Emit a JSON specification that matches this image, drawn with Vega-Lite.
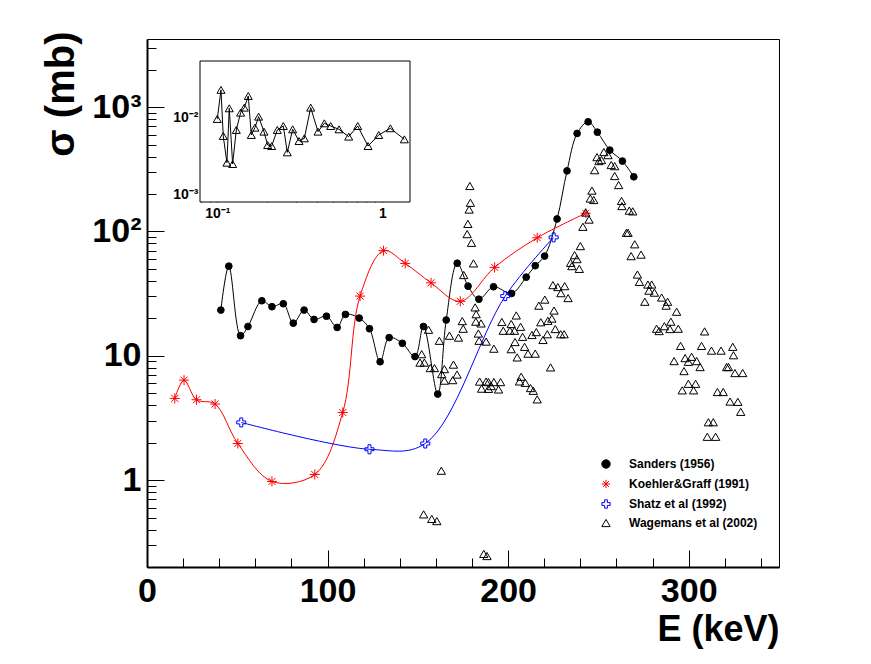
{
  "$schema": "https://vega.github.io/schema/vega-lite/v6.json",
  "width": 632,
  "height": 528,
  "autosize": {"type": "none"},
  "padding": {"left": 147, "top": 39, "right": 92, "bottom": 97},
  "background": "white",
  "config": {
    "font": "Liberation Sans",
    "view": {"stroke": "black", "strokeWidth": 1},
    "axis": {"grid": false, "labelFlush": false, "labelOverlap": false, "labelBound": false, "tickColor": "black", "tickWidth": 1, "labelColor": "black", "labelFont": "Liberation Sans", "labelFontWeight": "bold"},
    "legend": {
      "orient": "none", "legendX": 453, "legendY": 419, "padding": 0,
      "labelFont": "Liberation Sans", "labelFontSize": 12, "labelFontWeight": "bold", "labelColor": "black",
      "symbolSize": 70, "symbolStrokeWidth": 1, "symbolOpacity": 1, "rowPadding": 6, "labelOffset": 17
    }
  },
  "datasets": {
    "main": [
      {"s": "Sanders (1956)", "E": 40.9, "sigma": 23.3},
      {"s": "Sanders (1956)", "E": 45.3, "sigma": 52.6},
      {"s": "Sanders (1956)", "E": 51.8, "sigma": 14.5},
      {"s": "Sanders (1956)", "E": 55.9, "sigma": 17.2},
      {"s": "Sanders (1956)", "E": 63.6, "sigma": 27.7},
      {"s": "Sanders (1956)", "E": 69.2, "sigma": 24.8},
      {"s": "Sanders (1956)", "E": 75.5, "sigma": 26.2},
      {"s": "Sanders (1956)", "E": 81.0, "sigma": 18.3},
      {"s": "Sanders (1956)", "E": 87.0, "sigma": 23.3},
      {"s": "Sanders (1956)", "E": 92.5, "sigma": 19.6},
      {"s": "Sanders (1956)", "E": 99.4, "sigma": 20.8},
      {"s": "Sanders (1956)", "E": 105.3, "sigma": 16.9},
      {"s": "Sanders (1956)", "E": 109.9, "sigma": 21.5},
      {"s": "Sanders (1956)", "E": 117.5, "sigma": 20.1},
      {"s": "Sanders (1956)", "E": 123.2, "sigma": 16.5},
      {"s": "Sanders (1956)", "E": 129.1, "sigma": 8.95},
      {"s": "Sanders (1956)", "E": 134.1, "sigma": 14.0},
      {"s": "Sanders (1956)", "E": 141.4, "sigma": 12.6},
      {"s": "Sanders (1956)", "E": 148.4, "sigma": 9.85},
      {"s": "Sanders (1956)", "E": 153.1, "sigma": 17.2},
      {"s": "Sanders (1956)", "E": 161.0, "sigma": 4.92},
      {"s": "Sanders (1956)", "E": 165.7, "sigma": 19.4},
      {"s": "Sanders (1956)", "E": 171.8, "sigma": 55.5},
      {"s": "Sanders (1956)", "E": 177.8, "sigma": 36.3},
      {"s": "Sanders (1956)", "E": 183.8, "sigma": 28.5},
      {"s": "Sanders (1956)", "E": 191.9, "sigma": 35.9},
      {"s": "Sanders (1956)", "E": 201.9, "sigma": 31.7},
      {"s": "Sanders (1956)", "E": 210.0, "sigma": 42.9},
      {"s": "Sanders (1956)", "E": 215.0, "sigma": 53.0},
      {"s": "Sanders (1956)", "E": 220.2, "sigma": 63.4},
      {"s": "Sanders (1956)", "E": 227.1, "sigma": 126},
      {"s": "Sanders (1956)", "E": 232.6, "sigma": 307},
      {"s": "Sanders (1956)", "E": 238.2, "sigma": 614},
      {"s": "Sanders (1956)", "E": 244.3, "sigma": 762},
      {"s": "Sanders (1956)", "E": 249.4, "sigma": 629},
      {"s": "Sanders (1956)", "E": 256.3, "sigma": 451},
      {"s": "Sanders (1956)", "E": 263.3, "sigma": 368},
      {"s": "Sanders (1956)", "E": 269.6, "sigma": 275},
      {"s": "Koehler&Graff (1991)", "E": 15.4, "sigma": 4.54},
      {"s": "Koehler&Graff (1991)", "E": 20.5, "sigma": 6.37},
      {"s": "Koehler&Graff (1991)", "E": 27.4, "sigma": 4.43},
      {"s": "Koehler&Graff (1991)", "E": 37.7, "sigma": 4.09},
      {"s": "Koehler&Graff (1991)", "E": 50.3, "sigma": 1.97},
      {"s": "Koehler&Graff (1991)", "E": 69.2, "sigma": 0.975},
      {"s": "Koehler&Graff (1991)", "E": 92.9, "sigma": 1.11},
      {"s": "Koehler&Graff (1991)", "E": 108.4, "sigma": 3.5},
      {"s": "Koehler&Graff (1991)", "E": 118.0, "sigma": 30.2},
      {"s": "Koehler&Graff (1991)", "E": 131.0, "sigma": 70.0},
      {"s": "Koehler&Graff (1991)", "E": 143.0, "sigma": 55.3},
      {"s": "Koehler&Graff (1991)", "E": 157.3, "sigma": 38.6},
      {"s": "Koehler&Graff (1991)", "E": 173.5, "sigma": 27.4},
      {"s": "Koehler&Graff (1991)", "E": 192.5, "sigma": 51.4},
      {"s": "Koehler&Graff (1991)", "E": 216.1, "sigma": 88.9},
      {"s": "Koehler&Graff (1991)", "E": 243.0, "sigma": 140},
      {"s": "Shatz et al (1992)", "E": 52.2, "sigma": 2.91},
      {"s": "Shatz et al (1992)", "E": 123.2, "sigma": 1.77},
      {"s": "Shatz et al (1992)", "E": 154.1, "sigma": 1.97},
      {"s": "Shatz et al (1992)", "E": 198.4, "sigma": 30.2},
      {"s": "Shatz et al (1992)", "E": 225.2, "sigma": 89.6},
      {"s": "Wagemans et al (2002)", "E": 178.8, "sigma": 232},
      {"s": "Wagemans et al (2002)", "E": 179.1, "sigma": 170},
      {"s": "Wagemans et al (2002)", "E": 178.4, "sigma": 150},
      {"s": "Wagemans et al (2002)", "E": 177.7, "sigma": 115},
      {"s": "Wagemans et al (2002)", "E": 177.3, "sigma": 95.2},
      {"s": "Wagemans et al (2002)", "E": 179.7, "sigma": 81.0},
      {"s": "Wagemans et al (2002)", "E": 180.8, "sigma": 55.3},
      {"s": "Wagemans et al (2002)", "E": 175.4, "sigma": 44.6},
      {"s": "Wagemans et al (2002)", "E": 181.7, "sigma": 24.5},
      {"s": "Wagemans et al (2002)", "E": 182.3, "sigma": 21.6},
      {"s": "Wagemans et al (2002)", "E": 182.1, "sigma": 18.8},
      {"s": "Wagemans et al (2002)", "E": 185.0, "sigma": 18.2},
      {"s": "Wagemans et al (2002)", "E": 183.5, "sigma": 15.1},
      {"s": "Wagemans et al (2002)", "E": 183.9, "sigma": 13.2},
      {"s": "Wagemans et al (2002)", "E": 187.8, "sigma": 13.0},
      {"s": "Wagemans et al (2002)", "E": 192.1, "sigma": 11.4},
      {"s": "Wagemans et al (2002)", "E": 174.6, "sigma": 19.0},
      {"s": "Wagemans et al (2002)", "E": 175.1, "sigma": 16.5},
      {"s": "Wagemans et al (2002)", "E": 172.5, "sigma": 14.0},
      {"s": "Wagemans et al (2002)", "E": 167.5, "sigma": 14.5},
      {"s": "Wagemans et al (2002)", "E": 161.9, "sigma": 13.2},
      {"s": "Wagemans et al (2002)", "E": 155.9, "sigma": 16.2},
      {"s": "Wagemans et al (2002)", "E": 152.1, "sigma": 10.3},
      {"s": "Wagemans et al (2002)", "E": 151.2, "sigma": 8.81},
      {"s": "Wagemans et al (2002)", "E": 153.6, "sigma": 8.81},
      {"s": "Wagemans et al (2002)", "E": 156.9, "sigma": 7.96},
      {"s": "Wagemans et al (2002)", "E": 159.2, "sigma": 7.96},
      {"s": "Wagemans et al (2002)", "E": 164.7, "sigma": 7.81},
      {"s": "Wagemans et al (2002)", "E": 169.7, "sigma": 8.49},
      {"s": "Wagemans et al (2002)", "E": 171.7, "sigma": 7.06},
      {"s": "Wagemans et al (2002)", "E": 164.7, "sigma": 6.31},
      {"s": "Wagemans et al (2002)", "E": 169.3, "sigma": 6.37},
      {"s": "Wagemans et al (2002)", "E": 163.2, "sigma": 7.12},
      {"s": "Wagemans et al (2002)", "E": 184.2, "sigma": 6.2},
      {"s": "Wagemans et al (2002)", "E": 187.8, "sigma": 6.2},
      {"s": "Wagemans et al (2002)", "E": 189.1, "sigma": 6.14},
      {"s": "Wagemans et al (2002)", "E": 192.1, "sigma": 6.14},
      {"s": "Wagemans et al (2002)", "E": 195.8, "sigma": 6.14},
      {"s": "Wagemans et al (2002)", "E": 185.3, "sigma": 5.44},
      {"s": "Wagemans et al (2002)", "E": 189.1, "sigma": 5.42},
      {"s": "Wagemans et al (2002)", "E": 194.7, "sigma": 5.36},
      {"s": "Wagemans et al (2002)", "E": 190.6, "sigma": 5.7},
      {"s": "Wagemans et al (2002)", "E": 163.0, "sigma": 1.19},
      {"s": "Wagemans et al (2002)", "E": 153.2, "sigma": 0.53},
      {"s": "Wagemans et al (2002)", "E": 157.7, "sigma": 0.487},
      {"s": "Wagemans et al (2002)", "E": 160.5, "sigma": 0.468},
      {"s": "Wagemans et al (2002)", "E": 186.5, "sigma": 0.255},
      {"s": "Wagemans et al (2002)", "E": 188.3, "sigma": 0.245},
      {"s": "Wagemans et al (2002)", "E": 196.5, "sigma": 18.7},
      {"s": "Wagemans et al (2002)", "E": 204.5, "sigma": 21.1},
      {"s": "Wagemans et al (2002)", "E": 201.7, "sigma": 18.0},
      {"s": "Wagemans et al (2002)", "E": 201.0, "sigma": 15.9},
      {"s": "Wagemans et al (2002)", "E": 203.5, "sigma": 15.9},
      {"s": "Wagemans et al (2002)", "E": 206.9, "sigma": 17.1},
      {"s": "Wagemans et al (2002)", "E": 197.3, "sigma": 15.9},
      {"s": "Wagemans et al (2002)", "E": 208.0, "sigma": 14.2},
      {"s": "Wagemans et al (2002)", "E": 203.8, "sigma": 12.9},
      {"s": "Wagemans et al (2002)", "E": 201.7, "sigma": 11.3},
      {"s": "Wagemans et al (2002)", "E": 205.0, "sigma": 9.7},
      {"s": "Wagemans et al (2002)", "E": 211.0, "sigma": 10.4},
      {"s": "Wagemans et al (2002)", "E": 215.0, "sigma": 10.4},
      {"s": "Wagemans et al (2002)", "E": 209.1, "sigma": 11.8},
      {"s": "Wagemans et al (2002)", "E": 217.0, "sigma": 25.3},
      {"s": "Wagemans et al (2002)", "E": 220.3, "sigma": 28.3},
      {"s": "Wagemans et al (2002)", "E": 225.4, "sigma": 23.1},
      {"s": "Wagemans et al (2002)", "E": 218.1, "sigma": 18.6},
      {"s": "Wagemans et al (2002)", "E": 222.0, "sigma": 19.1},
      {"s": "Wagemans et al (2002)", "E": 224.2, "sigma": 19.9},
      {"s": "Wagemans et al (2002)", "E": 221.7, "sigma": 14.9},
      {"s": "Wagemans et al (2002)", "E": 219.3, "sigma": 13.4},
      {"s": "Wagemans et al (2002)", "E": 215.6, "sigma": 15.5},
      {"s": "Wagemans et al (2002)", "E": 213.2, "sigma": 14.7},
      {"s": "Wagemans et al (2002)", "E": 226.1, "sigma": 16.4},
      {"s": "Wagemans et al (2002)", "E": 223.5, "sigma": 8.06},
      {"s": "Wagemans et al (2002)", "E": 207.2, "sigma": 6.78},
      {"s": "Wagemans et al (2002)", "E": 209.5, "sigma": 6.06},
      {"s": "Wagemans et al (2002)", "E": 212.4, "sigma": 5.5},
      {"s": "Wagemans et al (2002)", "E": 213.9, "sigma": 5.23},
      {"s": "Wagemans et al (2002)", "E": 216.1, "sigma": 4.46},
      {"s": "Wagemans et al (2002)", "E": 206.3, "sigma": 6.22},
      {"s": "Wagemans et al (2002)", "E": 229.1, "sigma": 14.9},
      {"s": "Wagemans et al (2002)", "E": 231.0, "sigma": 14.9},
      {"s": "Wagemans et al (2002)", "E": 224.8, "sigma": 37.0},
      {"s": "Wagemans et al (2002)", "E": 227.5, "sigma": 35.7},
      {"s": "Wagemans et al (2002)", "E": 231.3, "sigma": 36.3},
      {"s": "Wagemans et al (2002)", "E": 233.2, "sigma": 29.1},
      {"s": "Wagemans et al (2002)", "E": 229.2, "sigma": 31.9},
      {"s": "Wagemans et al (2002)", "E": 234.6, "sigma": 55.9},
      {"s": "Wagemans et al (2002)", "E": 236.8, "sigma": 64.5},
      {"s": "Wagemans et al (2002)", "E": 238.1, "sigma": 59.9},
      {"s": "Wagemans et al (2002)", "E": 240.0, "sigma": 76.2},
      {"s": "Wagemans et al (2002)", "E": 239.4, "sigma": 50.0},
      {"s": "Wagemans et al (2002)", "E": 235.3, "sigma": 52.6},
      {"s": "Wagemans et al (2002)", "E": 241.4, "sigma": 109},
      {"s": "Wagemans et al (2002)", "E": 242.9, "sigma": 142},
      {"s": "Wagemans et al (2002)", "E": 244.8, "sigma": 124.5},
      {"s": "Wagemans et al (2002)", "E": 246.4, "sigma": 213},
      {"s": "Wagemans et al (2002)", "E": 245.5, "sigma": 184},
      {"s": "Wagemans et al (2002)", "E": 247.4, "sigma": 179},
      {"s": "Wagemans et al (2002)", "E": 247.9, "sigma": 311},
      {"s": "Wagemans et al (2002)", "E": 249.2, "sigma": 396},
      {"s": "Wagemans et al (2002)", "E": 251.7, "sigma": 375},
      {"s": "Wagemans et al (2002)", "E": 253.0, "sigma": 435},
      {"s": "Wagemans et al (2002)", "E": 250.3, "sigma": 368},
      {"s": "Wagemans et al (2002)", "E": 255.3, "sigma": 411},
      {"s": "Wagemans et al (2002)", "E": 257.1, "sigma": 342},
      {"s": "Wagemans et al (2002)", "E": 259.0, "sigma": 335},
      {"s": "Wagemans et al (2002)", "E": 259.0, "sigma": 279},
      {"s": "Wagemans et al (2002)", "E": 261.2, "sigma": 236},
      {"s": "Wagemans et al (2002)", "E": 262.8, "sigma": 176},
      {"s": "Wagemans et al (2002)", "E": 263.0, "sigma": 160},
      {"s": "Wagemans et al (2002)", "E": 267.1, "sigma": 147},
      {"s": "Wagemans et al (2002)", "E": 269.0, "sigma": 145},
      {"s": "Wagemans et al (2002)", "E": 265.5, "sigma": 97.5},
      {"s": "Wagemans et al (2002)", "E": 266.4, "sigma": 97.5},
      {"s": "Wagemans et al (2002)", "E": 270.1, "sigma": 78.8},
      {"s": "Wagemans et al (2002)", "E": 268.1, "sigma": 63.3},
      {"s": "Wagemans et al (2002)", "E": 273.6, "sigma": 65.1},
      {"s": "Wagemans et al (2002)", "E": 271.6, "sigma": 45.0},
      {"s": "Wagemans et al (2002)", "E": 272.7, "sigma": 39.3},
      {"s": "Wagemans et al (2002)", "E": 277.4, "sigma": 37.4},
      {"s": "Wagemans et al (2002)", "E": 279.5, "sigma": 37.4},
      {"s": "Wagemans et al (2002)", "E": 278.0, "sigma": 33.4},
      {"s": "Wagemans et al (2002)", "E": 281.0, "sigma": 32.2},
      {"s": "Wagemans et al (2002)", "E": 275.7, "sigma": 27.2},
      {"s": "Wagemans et al (2002)", "E": 285.0, "sigma": 29.4},
      {"s": "Wagemans et al (2002)", "E": 288.3, "sigma": 27.2},
      {"s": "Wagemans et al (2002)", "E": 287.5, "sigma": 25.3},
      {"s": "Wagemans et al (2002)", "E": 293.3, "sigma": 22.6},
      {"s": "Wagemans et al (2002)", "E": 282.2, "sigma": 16.5},
      {"s": "Wagemans et al (2002)", "E": 283.6, "sigma": 15.8},
      {"s": "Wagemans et al (2002)", "E": 286.5, "sigma": 17.3},
      {"s": "Wagemans et al (2002)", "E": 290.1, "sigma": 18.8},
      {"s": "Wagemans et al (2002)", "E": 289.6, "sigma": 16.4},
      {"s": "Wagemans et al (2002)", "E": 294.2, "sigma": 16.5},
      {"s": "Wagemans et al (2002)", "E": 308.8, "sigma": 15.7},
      {"s": "Wagemans et al (2002)", "E": 295.5, "sigma": 12.0},
      {"s": "Wagemans et al (2002)", "E": 307.1, "sigma": 12.0},
      {"s": "Wagemans et al (2002)", "E": 312.6, "sigma": 11.0},
      {"s": "Wagemans et al (2002)", "E": 317.9, "sigma": 11.0},
      {"s": "Wagemans et al (2002)", "E": 324.4, "sigma": 11.8},
      {"s": "Wagemans et al (2002)", "E": 324.8, "sigma": 10.1},
      {"s": "Wagemans et al (2002)", "E": 291.9, "sigma": 9.06},
      {"s": "Wagemans et al (2002)", "E": 298.0, "sigma": 9.58},
      {"s": "Wagemans et al (2002)", "E": 301.6, "sigma": 9.81},
      {"s": "Wagemans et al (2002)", "E": 299.8, "sigma": 8.94},
      {"s": "Wagemans et al (2002)", "E": 304.4, "sigma": 9.06},
      {"s": "Wagemans et al (2002)", "E": 297.4, "sigma": 7.53},
      {"s": "Wagemans et al (2002)", "E": 306.3, "sigma": 8.11},
      {"s": "Wagemans et al (2002)", "E": 321.0, "sigma": 8.11},
      {"s": "Wagemans et al (2002)", "E": 322.0, "sigma": 8.11},
      {"s": "Wagemans et al (2002)", "E": 325.6, "sigma": 7.26},
      {"s": "Wagemans et al (2002)", "E": 329.9, "sigma": 7.26},
      {"s": "Wagemans et al (2002)", "E": 299.8, "sigma": 5.95},
      {"s": "Wagemans et al (2002)", "E": 303.8, "sigma": 5.95},
      {"s": "Wagemans et al (2002)", "E": 296.4, "sigma": 5.27},
      {"s": "Wagemans et al (2002)", "E": 302.7, "sigma": 5.27},
      {"s": "Wagemans et al (2002)", "E": 315.9, "sigma": 5.11},
      {"s": "Wagemans et al (2002)", "E": 319.1, "sigma": 5.11},
      {"s": "Wagemans et al (2002)", "E": 322.9, "sigma": 4.28},
      {"s": "Wagemans et al (2002)", "E": 327.2, "sigma": 4.26},
      {"s": "Wagemans et al (2002)", "E": 328.8, "sigma": 3.54},
      {"s": "Wagemans et al (2002)", "E": 310.9, "sigma": 2.92},
      {"s": "Wagemans et al (2002)", "E": 313.6, "sigma": 2.92},
      {"s": "Wagemans et al (2002)", "E": 310.3, "sigma": 2.23},
      {"s": "Wagemans et al (2002)", "E": 314.9, "sigma": 2.23}
    ],
    "inset": [
      {"E": 0.1, "sigma": 0.00951},
      {"E": 0.1053, "sigma": 0.02277},
      {"E": 0.1087, "sigma": 0.00571},
      {"E": 0.1144, "sigma": 0.00256},
      {"E": 0.1182, "sigma": 0.0131},
      {"E": 0.1239, "sigma": 0.00246},
      {"E": 0.1304, "sigma": 0.00684},
      {"E": 0.1385, "sigma": 0.0115},
      {"E": 0.1458, "sigma": 0.01337},
      {"E": 0.1541, "sigma": 0.01897},
      {"E": 0.1607, "sigma": 0.00588},
      {"E": 0.1691, "sigma": 0.00733},
      {"E": 0.178, "sigma": 0.0102},
      {"E": 0.1918, "sigma": 0.0065},
      {"E": 0.2019, "sigma": 0.00435},
      {"E": 0.2135, "sigma": 0.00422},
      {"E": 0.231, "sigma": 0.00684},
      {"E": 0.2512, "sigma": 0.0077},
      {"E": 0.2656, "sigma": 0.00349},
      {"E": 0.2861, "sigma": 0.00697},
      {"E": 0.3128, "sigma": 0.00491},
      {"E": 0.3368, "sigma": 0.00532},
      {"E": 0.368, "sigma": 0.01337},
      {"E": 0.4075, "sigma": 0.0065},
      {"E": 0.4451, "sigma": 0.00835},
      {"E": 0.4864, "sigma": 0.0077},
      {"E": 0.5462, "sigma": 0.00697},
      {"E": 0.6252, "sigma": 0.0056},
      {"E": 0.7088, "sigma": 0.0077},
      {"E": 0.8188, "sigma": 0.00422},
      {"E": 0.9502, "sigma": 0.00588},
      {"E": 1.118, "sigma": 0.00719},
      {"E": 1.3589, "sigma": 0.00516}
    ]
  },
  "layer": [
    {
      "data": {"name": "main"},
      "layer": [
        {
          "transform": [{"filter": "datum.s !== 'Wagemans et al (2002)'"}],
          "mark": {"type": "line", "interpolate": "catmull-rom", "strokeWidth": 1},
          "encoding": {
            "x": {
              "field": "E", "type": "quantitative",
              "scale": {"domain": [0, 350], "nice": false, "zero": false},
              "axis": {
                "orient": "bottom", "values": [0, 100, 200, 300], "tickSize": -17,
                "domain": true, "domainColor": "black", "domainWidth": 2,
                "labelFontSize": 34, "labelPadding": 24,
                "title": "E (keV)", "titleFont": "Liberation Sans", "titleFontSize": 36, "titleFontWeight": "bold", "titleColor": "black",
                "titleX": 632, "titleY": 73, "titleAlign": "right", "titleBaseline": "alphabetic"
              }
            },
            "y": {
              "field": "sigma", "type": "quantitative",
              "scale": {"type": "log", "domain": [0.2, 3530], "nice": false},
              "axis": {
                "orient": "left", "values": [1, 10, 100, 1000], "tickSize": -17,
                "domain": true, "domainColor": "black", "domainWidth": 2,
                "labelFontSize": 34, "labelPadding": 23, "labelAlign": "right", "labelBaseline": "middle",
                "labelExpr": "datum.value == 1000 ? '10³' : datum.value == 100 ? '10²' : datum.value == 10 ? '10' : '1'",
                "title": "σ (mb)", "titleFont": "Liberation Sans", "titleFontSize": 40, "titleFontWeight": "bold", "titleColor": "black",
                "titleAngle": -90, "titleX": -86, "titleY": -8, "titleAlign": "right", "titleBaseline": "middle"
              }
            },
            "color": {
              "field": "s", "type": "nominal",
              "scale": {"domain": ["Sanders (1956)", "Koehler&Graff (1991)", "Shatz et al (1992)"], "range": ["black", "#ff0000", "#0000ff"]},
              "legend": null
            }
          }
        },
        {
          "mark": {"type": "point", "strokeWidth": 1, "opacity": 1},
          "encoding": {
            "x": {
              "field": "E", "type": "quantitative",
              "axis": {
                "orient": "bottom", "values": [20, 40, 60, 80, 120, 140, 160, 180, 220, 240, 260, 280, 320, 340],
                "tickSize": -9, "domain": false, "labels": false, "title": null
              }
            },
            "y": {
              "field": "sigma", "type": "quantitative",
              "axis": {
                "orient": "left",
                "values": [0.3, 0.4, 0.5, 0.6, 0.7, 0.8, 0.9, 2, 3, 4, 5, 6, 7, 8, 9, 20, 30, 40, 50, 60, 70, 80, 90, 200, 300, 400, 500, 600, 700, 800, 900, 2000, 3000],
                "tickSize": -9, "domain": false, "labels": false, "title": null
              }
            },
            "shape": {
              "field": "s", "type": "nominal",
              "scale": {
                "domain": ["Sanders (1956)", "Koehler&Graff (1991)", "Shatz et al (1992)", "Wagemans et al (2002)"],
                "range": ["circle", "M-1,0L1,0M0,-1L0,1M-0.7,-0.7L0.7,0.7M-0.7,0.7L0.7,-0.7", "M-0.33,-1L0.33,-1L0.33,-0.33L1,-0.33L1,0.33L0.33,0.33L0.33,1L-0.33,1L-0.33,0.33L-1,0.33L-1,-0.33L-0.33,-0.33Z", "triangle-up"]
              },
              "legend": {"title": null}
            },
            "stroke": {
              "field": "s", "type": "nominal",
              "scale": {
                "domain": ["Sanders (1956)", "Koehler&Graff (1991)", "Shatz et al (1992)", "Wagemans et al (2002)"],
                "range": ["black", "#ff0000", "#0000ff", "black"]
              },
              "legend": {"title": null}
            },
            "fill": {
              "field": "s", "type": "nominal",
              "scale": {
                "domain": ["Sanders (1956)", "Koehler&Graff (1991)", "Shatz et al (1992)", "Wagemans et al (2002)"],
                "range": ["black", "transparent", "transparent", "transparent"]
              },
              "legend": {"title": null}
            },
            "size": {
              "condition": [
                {"test": "datum.s === 'Sanders (1956)'", "value": 45},
                {"test": "datum.s === 'Koehler&Graff (1991)'", "value": 100},
                {"test": "datum.s === 'Shatz et al (1992)'", "value": 81}
              ],
              "value": 69
            }
          }
        }
      ],
      "resolve": {"axis": {"x": "independent", "y": "independent"}}
    },
    {
      "data": {"name": "inset"},
      "layer": [
        {
          "data": {"values": [{}]},
          "mark": {"type": "rect", "fill": "white", "stroke": "black", "strokeWidth": 1},
          "encoding": {
            "x": {
              "datum": 0.0786, "type": "quantitative",
              "scale": {"type": "log", "domain": [0.0786, 1.47], "range": [53, 263], "nice": false},
              "axis": {
                "orient": "bottom", "offset": -365, "values": [0.1, 1], "tickSize": -8, "domain": false,
                "labelFontSize": 14, "labelPadding": 12,
                "labelExpr": "datum.value < 0.5 ? '10⁻¹' : '1'", "title": null
              }
            },
            "x2": {"datum": 1.47},
            "y": {
              "datum": 0.000787, "type": "quantitative",
              "scale": {"type": "log", "domain": [0.000787, 0.0542], "range": [163, 22], "nice": false},
              "axis": {
                "orient": "left", "offset": -53, "values": [0.001, 0.01], "tickSize": -8, "domain": false,
                "labelFontSize": 14, "labelPadding": 10, "labelAlign": "right", "labelBaseline": "middle",
                "labelExpr": "datum.value < 0.005 ? '10⁻³' : '10⁻²'", "title": null
              }
            },
            "y2": {"datum": 0.0542}
          }
        },
        {
          "mark": {"type": "line", "color": "black", "strokeWidth": 1},
          "encoding": {
            "x": {
              "field": "E", "type": "quantitative",
              "axis": {
                "orient": "bottom", "offset": -365, "values": [0.08, 0.09, 0.2, 0.3, 0.4, 0.5, 0.6, 0.7, 0.8, 0.9],
                "tickSize": -4, "domain": false, "labels": false, "title": null
              }
            },
            "y": {
              "field": "sigma", "type": "quantitative",
              "axis": {
                "orient": "left", "offset": -53,
                "values": [0.0008, 0.0009, 0.002, 0.003, 0.004, 0.005, 0.006, 0.007, 0.008, 0.009, 0.02, 0.03, 0.04, 0.05],
                "tickSize": -4, "domain": false, "labels": false, "title": null
              }
            }
          }
        },
        {
          "mark": {"type": "point", "shape": "triangle-up", "size": 64, "filled": false, "stroke": "black", "strokeWidth": 1, "opacity": 1},
          "encoding": {
            "x": {"field": "E", "type": "quantitative", "axis": null},
            "y": {"field": "sigma", "type": "quantitative", "axis": null}
          }
        }
      ],
      "resolve": {"axis": {"x": "independent", "y": "independent"}}
    }
  ],
  "resolve": {
    "scale": {"x": "independent", "y": "independent"},
    "axis": {"x": "independent", "y": "independent"}
  }
}
